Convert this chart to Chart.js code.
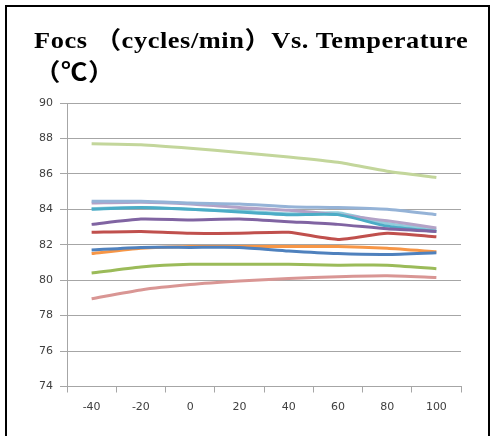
<!DOCTYPE html>
<html>
<head>
<meta charset="utf-8">
<script src="https://cdn.jsdelivr.net/npm/chart.js@4"></script>
<style>
    body { margin: 0; background: #fff; }
    #moldura {
        position: absolute; left: 5px; top: 5px; width: 485px; height: 440px;
        border: 2px solid #000; border-bottom: none; box-sizing: border-box;
    }
    #titulo {
        position: absolute; left: 34px; top: 24px; white-space: nowrap;
        font-family: "Liberation Serif", "Noto Sans CJK SC", serif;
        font-weight: bold; font-size: 24px; line-height: 32px; letter-spacing: 0.5px; color: #000;
        transform: scaleX(1.1); transform-origin: left top;
    }
    #area { position: absolute; left: 0; top: 0; width: 492px; height: 436px; }
</style>
</head>
<body>
<div id="area"><canvas id="grafico" width="492" height="436"></canvas></div>
<div id="moldura"></div>
<div id="titulo">Focs （cycles/min）Vs. Temperature<br>（℃）</div>
<script>
// Temperaturas (eixo X)
const temperaturas = ['-40', '-20', '0', '20', '40', '60', '80', '100'];

// Valores, uma lista por curva
const serieAzul = [81.7, 81.85, 81.85, 81.85, 81.65, 81.5, 81.45, 81.55];
const serieVermelha = [82.7, 82.75, 82.65, 82.65, 82.7, 82.3, 82.65, 82.45];
const serieVerde = [80.4, 80.75, 80.9, 80.9, 80.9, 80.85, 80.85, 80.65];
const serieRoxa = [83.15, 83.45, 83.4, 83.45, 83.3, 83.15, 82.9, 82.75];
const serieCiano = [84.0, 84.1, 84.0, 83.85, 83.7, 83.7, 83.05, 82.75];
const serieLaranja = [81.5, 81.8, 81.9, 81.9, 81.9, 81.9, 81.8, 81.6];
const serieAzulClaro = [84.45, 84.45, 84.35, 84.3, 84.15, 84.1, 84.0, 83.7];
const serieRosa = [78.95, 79.45, 79.75, 79.95, 80.1, 80.2, 80.25, 80.15];
const serieVerdeClaro = [87.7, 87.65, 87.45, 87.2, 86.95, 86.65, 86.15, 85.8];
const serieLilas = [84.35, 84.4, 84.3, 84.1, 83.95, 83.7, 83.35, 82.95];
const serieCianoClaro = [84.05, 84.1, 84.0, 83.9, 83.75, 83.8, 83.2, 82.85];

// Eixo Y
const yMin = 74;
const yMax = 90;
const yPasso = 2;

function curva(dados, cor) {
    return {
        data: dados,
        borderColor: cor,
        backgroundColor: cor,
        borderWidth: 3,
        pointRadius: 0,
        tension: 0.2,
        fill: false
    };
}

const corGrade = '#a6a6a6';
const fonteEixo = { family: 'DejaVu Sans', size: 11 };

new Chart(document.getElementById('grafico'), {
    type: 'line',
    data: {
        labels: temperaturas,
        datasets: [
            curva(serieAzul, '#4f81bd'),
            curva(serieVermelha, '#c0504d'),
            curva(serieVerde, '#9bbb59'),
            curva(serieRoxa, '#8064a2'),
            curva(serieCiano, '#4bacc6'),
            curva(serieLaranja, '#f79646'),
            curva(serieAzulClaro, '#95b3d7'),
            curva(serieRosa, '#d99694'),
            curva(serieVerdeClaro, '#c3d69b'),
            curva(serieLilas, '#b3a2c7'),
            curva(serieCianoClaro, '#92cddc')
        ]
    },
    options: {
        responsive: false,
        animation: false,
        devicePixelRatio: 1,
        layout: { padding: { top: 103, right: 31, bottom: 0, left: 0 } },
        plugins: {
            legend: { display: false },
            tooltip: { enabled: false }
        },
        scales: {
            x: {
                offset: true,
                afterFit: function(escala) { escala.height = 49.5; },
                grid: {
                    offset: true,
                    drawOnChartArea: false,
                    drawTicks: true,
                    tickLength: 6,
                    color: corGrade
                },
                border: { color: corGrade, width: 1 },
                ticks: { color: '#404040', font: fonteEixo, padding: 8, maxRotation: 0 }
            },
            y: {
                min: yMin,
                max: yMax,
                afterFit: function(escala) { escala.width = 67; },
                grid: { color: corGrade, tickLength: 7, lineWidth: 1 },
                border: { color: corGrade, width: 1 },
                ticks: { stepSize: yPasso, color: '#404040', font: fonteEixo, padding: 7 }
            }
        }
    }
});
</script>
</body>
</html>
